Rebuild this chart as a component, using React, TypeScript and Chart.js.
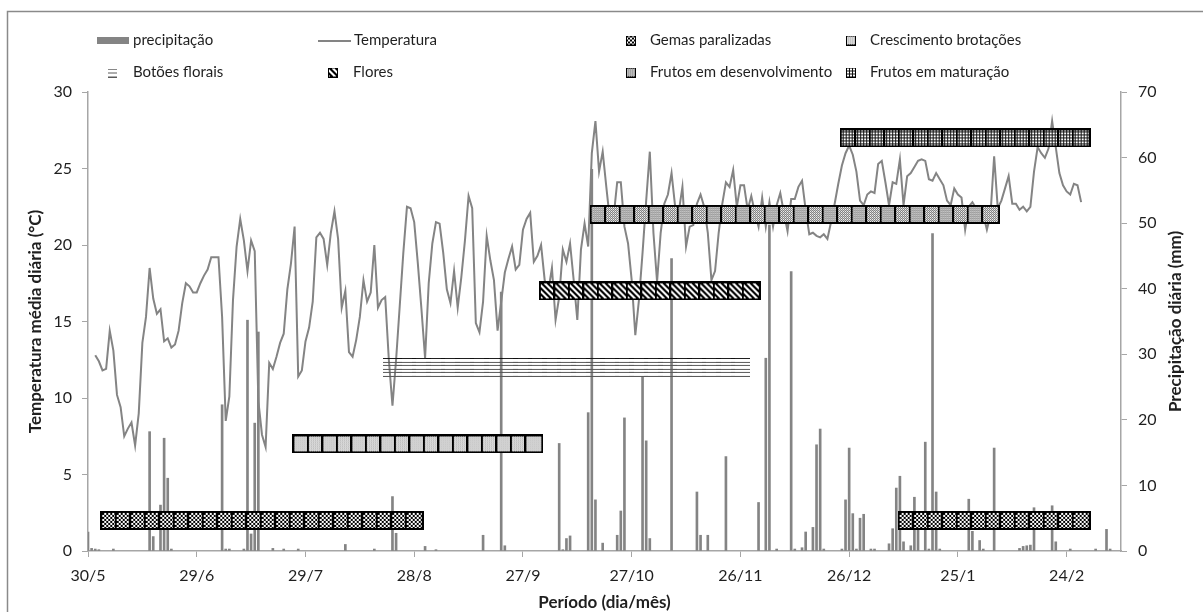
import { useEffect, useRef } from 'react';
import { Chart, registerables } from 'chart.js';

Chart.register(...registerables);

const FONT = 'Lato, "Open Sans", sans-serif';
const TEXT = '#1f1f1f';
const AXIS = '#a6a6a6';
const GRAY = '#848484';

// x axis: days counted from 30/5
const tickDays = [0, 30, 60, 90, 120, 150, 180, 210, 240, 270];
const tickLabels = ['30/5', '29/6', '29/7', '28/8', '27/9', '27/10', '26/11', '26/12', '25/1', '24/2'];
const xMaxDay = 285;

// daily mean temperature (°C), first value on day 2 (1/6)
const tempStartDay = 2;
const temperature = [
  12.8, 12.4, 11.8, 11.9, 14.4, 13.1, 10.2, 9.4, 7.5, 8.0,
  8.4, 6.9, 9.0, 13.6, 15.3, 18.5, 16.5, 15.5, 15.8, 13.7,
  13.9, 13.3, 13.5, 14.4, 16.2, 17.5, 17.3, 16.9, 16.9, 17.5,
  18.0, 18.4, 19.2, 19.2, 19.2, 15.3, 8.5, 10.1, 16.4, 19.9,
  21.7, 20.3, 18.3, 20.3, 19.6, 9.8, 7.6, 6.8, 12.3, 11.9,
  12.7, 13.6, 14.2, 17.1, 18.8, 21.2, 11.4, 11.8, 13.7, 14.6,
  16.3, 20.5, 20.8, 20.4, 18.7, 20.8, 22.2, 20.4, 15.9, 17.0,
  13.0, 12.7, 13.8, 15.3, 17.7, 16.3, 16.9, 20.0, 15.9, 16.4,
  16.6, 12.5, 9.5, 12.5, 16.0, 19.5, 22.5, 22.4, 21.5, 18.8,
  15.8, 12.6, 17.5, 20.1, 21.5, 21.4, 19.5, 17.1, 16.2, 18.3,
  15.9, 17.9, 20.3, 23.2, 22.4, 14.9, 14.3, 16.3, 20.6, 19.0,
  17.7, 14.4, 16.3, 18.2, 19.1, 19.9, 18.4, 18.7, 21.0, 21.7,
  22.1, 18.9, 19.3, 20.0, 17.7, 17.0, 18.5, 15.1, 16.6, 19.7,
  18.9, 20.1, 17.7, 15.1, 19.7, 21.4, 19.9, 26.0, 28.1, 24.8,
  26.1, 23.8, 21.6, 21.8, 24.1, 24.1, 21.2, 20.1, 17.7, 14.1,
  16.4, 19.5, 22.9, 26.1, 20.8, 17.6, 20.8, 22.7, 23.3, 24.7,
  22.5, 22.2, 23.8, 19.9, 21.2, 21.3, 22.7, 23.3, 22.5, 20.8,
  17.7, 18.3, 20.8, 22.7, 24.1, 23.8, 24.9, 22.5, 23.9, 23.9,
  22.3, 23.2, 22.1, 21.2, 23.1, 21.2, 22.8, 21.2, 22.6, 23.4,
  22.1, 20.9, 23.0, 23.0, 23.8, 24.2, 22.3, 20.7, 20.8, 20.6,
  20.5, 20.7, 20.4, 21.5, 22.7, 24.0, 25.2, 26.0, 26.5, 25.9,
  24.8, 22.9, 22.6, 23.3, 23.5, 23.4, 25.3, 25.5, 24.1, 22.6,
  24.1, 24.0, 25.6, 22.6, 24.5, 24.7, 25.1, 25.5, 25.6, 25.5,
  24.3, 24.2, 24.7, 24.3, 23.9, 22.9, 22.6, 23.7, 23.3, 23.1,
  21.0, 22.5, 22.8, 22.4, 22.0, 22.0, 21.0, 22.0, 25.8, 22.4,
  22.9, 23.7, 24.5, 22.7, 22.7, 22.3, 22.5, 22.2, 22.5, 24.8,
  26.4, 26.0, 25.7, 26.3, 28.1, 26.4, 24.7, 23.9, 23.5, 23.3,
  24.0, 23.9, 22.8,
];

// daily rainfall (mm)
const precipDays = [
  0, 1, 2, 3, 7, 17, 18, 20, 21, 22, 23, 37, 38, 39, 43, 44, 45, 46, 47, 51,
  54, 58, 71, 79, 84, 85, 93, 96, 109, 114, 115, 130, 131, 132, 133, 138, 139, 140, 142, 146,
  147, 148, 153, 154, 155, 161, 168, 169, 171, 176, 185, 187, 188, 190, 194, 195, 197, 198, 200, 201,
  202, 203, 208, 209, 210, 211, 212, 213, 214, 216, 217, 221, 222, 223, 224, 225, 227, 228, 229, 231,
  232, 233, 234, 235, 243, 244, 246, 247, 250, 257, 258, 259, 260, 261, 266, 267, 271, 278, 281, 282,
];
const precipMm = [
  2.9, 0.4, 0.3, 0.2, 0.3, 18.2, 2.2, 7.0, 17.2, 11.1, 0.3, 22.3, 0.3, 0.3, 0.3, 35.2, 2.6, 19.5, 33.4, 0.4,
  0.3, 0.3, 1.0, 0.3, 8.3, 2.7, 0.7, 0.2, 2.4, 39.5, 0.8, 16.4, 0.2, 1.9, 2.3, 21.1, 58.2, 7.8, 1.2, 2.4,
  6.1, 20.3, 26.5, 16.8, 1.9, 44.6, 9.0, 2.4, 2.4, 14.4, 7.4, 29.4, 49.7, 0.3, 42.6, 0.3, 0.5, 2.9, 3.6, 16.2,
  18.6, 0.3, 0.3, 7.8, 15.7, 5.7, 0.3, 5.0, 5.6, 0.3, 0.3, 1.1, 3.4, 9.6, 11.4, 1.4, 0.8, 8.2, 3.4, 16.6,
  0.3, 48.4, 9.0, 0.3, 7.9, 3.0, 1.6, 0.3, 15.7, 0.4, 0.7, 0.8, 0.9, 6.6, 6.9, 1.4, 0.3, 0.3, 3.3, 0.3,
];

// phenological stages: observation days and the level (°C axis) where they are plotted
const gemasDays = [6, 10, 14, 18, 22, 26, 30, 34, 38, 42, 46, 50, 54, 58, 62, 66, 70, 74, 78, 82, 86, 90,
  226, 230, 234, 238, 242, 246, 250, 254, 258, 262, 266, 270, 274];
const gemasLevel = 2;
const brotacoesDays = [59, 63, 67, 71, 75, 79, 83, 87, 91, 95, 99, 103, 107, 111, 115, 119, 123];
const brotacoesLevel = 7;
const botoesDays = [84, 88, 92, 96, 100, 104, 108, 112, 116, 120, 124, 128, 132, 136, 140, 144, 148, 152,
  156, 160, 164, 168, 172, 176, 180];
const botoesLevel = 12;
const floresDays = [127, 131, 135, 139, 143, 147, 151, 155, 159, 163, 167, 171, 175, 179, 183];
const floresLevel = 17;
const desenvDays = [141, 145, 149, 153, 157, 161, 165, 169, 173, 177, 181, 185, 189, 193, 197, 201, 205,
  209, 213, 217, 221, 225, 229, 233, 237, 241, 245, 249];
const desenvLevel = 22;
const maturacaoDays = [210, 214, 218, 222, 226, 230, 234, 238, 242, 246, 250, 254, 258, 262, 266, 270, 274];
const maturacaoLevel = 27;

type Kind = 'gemas' | 'brot' | 'botoes' | 'flores' | 'desenv' | 'matur';

function makeMarker(kind: Kind, size: number): HTMLCanvasElement {
  const c = document.createElement('canvas');
  c.width = size;
  c.height = size;
  const g = c.getContext('2d') as CanvasRenderingContext2D;
  if (kind === 'botoes') {
    const n = size >= 15 ? 6 : 3;
    const step = (size - 1) / (n - 1);
    for (let i = 0; i < n; i++) {
      g.fillStyle = i === 0 ? '#111' : '#5a5a5a';
      g.fillRect(0, Math.round(i * step), size, 1);
    }
    return c;
  }
  g.fillStyle = '#fff';
  g.fillRect(0, 0, size, size);
  for (let y = 0; y < size; y++) {
    for (let x = 0; x < size; x++) {
      let col: string | null = null;
      if (kind === 'gemas') {
        if ((Math.floor(x / 2) + Math.floor(y / 2)) % 2 === 0) col = '#000';
      } else if (kind === 'brot') {
        if ((x + y) % 2 === 0) col = (y % 2 === 0) ? '#8c8c8c' : '#b4b4b4';
      } else if (kind === 'desenv') {
        if ((x + y) % 2 === 0) col = '#777';
        else if (x % 2 === 0) col = '#cfcfcf';
      } else if (kind === 'matur') {
        if (x % 3 === 0 || y % 3 === 0) col = '#111';
      } else if (kind === 'flores') {
        if ((((x - y) % 6) + 6) % 6 < 3) col = '#000';
      }
      if (col) {
        g.fillStyle = col;
        g.fillRect(x, y, 1, 1);
      }
    }
  }
  g.strokeStyle = '#000';
  const lw = size >= 15 ? 2 : 1;
  g.lineWidth = lw;
  g.strokeRect(lw / 2, lw / 2, size - lw, size - lw);
  return c;
}

export default function App() {
  const ref = useRef<HTMLCanvasElement>(null);

  useEffect(() => {
    const canvas = ref.current;
    if (!canvas) return;

    const big: Record<Kind, HTMLCanvasElement> = {
      gemas: makeMarker('gemas', 19),
      brot: makeMarker('brot', 19),
      botoes: makeMarker('botoes', 19),
      flores: makeMarker('flores', 19),
      desenv: makeMarker('desenv', 19),
      matur: makeMarker('matur', 19),
    };
    const small: Record<Kind, HTMLCanvasElement> = {
      gemas: makeMarker('gemas', 10),
      brot: makeMarker('brot', 10),
      botoes: makeMarker('botoes', 9),
      flores: makeMarker('flores', 10),
      desenv: makeMarker('desenv', 10),
      matur: makeMarker('matur', 10),
    };

    const pheno = (label: string, kind: Kind, days: number[], level: number, order: number) => ({
      type: 'line' as const,
      label,
      data: days.map((d) => ({ x: d, y: level })),
      showLine: false,
      pointStyle: big[kind],
      pointRadius: 5,
      pointHoverRadius: 5,
      yAxisID: 'y',
      order,
      clip: false as any,
    });

    const decor = {
      id: 'decor',
      beforeDraw(chart: any) {
        const ctx = chart.ctx as CanvasRenderingContext2D;
        ctx.save();
        ctx.fillStyle = '#fff';
        ctx.fillRect(0, 0, chart.width, chart.height);
        ctx.strokeStyle = '#8a8a8a';
        ctx.lineWidth = 1.5;
        ctx.beginPath();
        ctx.moveTo(7.5, 700);
        ctx.lineTo(7.5, 11.5);
        ctx.lineTo(1400, 11.5);
        ctx.stroke();
        ctx.restore();
      },
      afterDraw(chart: any) {
        const ctx = chart.ctx as CanvasRenderingContext2D;
        const area = chart.chartArea;
        ctx.save();
        // legend
        ctx.font = `15px ${FONT}`;
        ctx.textBaseline = 'middle';
        ctx.textAlign = 'left';
        const r1 = 40.5;
        const r2 = 72.5;
        ctx.fillStyle = GRAY;
        ctx.fillRect(97, 37, 32, 7);
        ctx.strokeStyle = GRAY;
        ctx.lineWidth = 2;
        ctx.beginPath();
        ctx.moveTo(318, 41);
        ctx.lineTo(351, 41);
        ctx.stroke();
        ctx.drawImage(small.gemas, 626, r1 - 5);
        ctx.drawImage(small.brot, 846, r1 - 5);
        ctx.drawImage(small.botoes, 108, r2 - 4);
        ctx.drawImage(small.flores, 328, r2 - 5);
        ctx.drawImage(small.desenv, 626, r2 - 5);
        ctx.drawImage(small.matur, 846, r2 - 5);
        ctx.fillStyle = TEXT;
        ctx.fillText('precipitação', 133, r1);
        ctx.fillText('Temperatura', 354, r1);
        ctx.fillText('Gemas paralizadas', 650, r1);
        ctx.fillText('Crescimento brotações', 870, r1);
        ctx.fillText('Botões florais', 133, r2);
        ctx.fillText('Flores', 353, r2);
        ctx.fillText('Frutos em desenvolvimento', 650, r2);
        ctx.fillText('Frutos em maturação', 870, r2);

        // axis titles
        ctx.font = `bold 17px ${FONT}`;
        ctx.textAlign = 'center';
        const midY = (area.top + area.bottom) / 2;
        ctx.save();
        ctx.translate(36, midY);
        ctx.rotate(-Math.PI / 2);
        ctx.fillText('Temperatura média diária (°C)', 0, 0);
        ctx.restore();
        ctx.save();
        ctx.translate(1176, midY);
        ctx.rotate(-Math.PI / 2);
        ctx.fillText('Precipitação diária (mm)', 0, 0);
        ctx.restore();
        ctx.fillText('Período (dia/mês)', (area.left + area.right) / 2, 603);
        ctx.restore();
      },
    };

    const tickFont = { family: FONT, size: 16 };

    const chart = new Chart(canvas, {
      type: 'bar',
      data: {
        datasets: [
          {
            type: 'bar',
            label: 'precipitação',
            data: precipDays.map((d, i) => ({ x: d, y: precipMm[i] })),
            backgroundColor: GRAY,
            borderWidth: 0,
            barThickness: 2,
            yAxisID: 'y2',
            order: 10,
          } as any,
          {
            type: 'line',
            label: 'Temperatura',
            data: temperature.map((t, i) => ({ x: tempStartDay + i, y: t })),
            borderColor: GRAY,
            borderWidth: 2,
            pointRadius: 0,
            tension: 0,
            yAxisID: 'y',
            order: 9,
          } as any,
          pheno('Gemas paralizadas', 'gemas', gemasDays, gemasLevel, 6) as any,
          pheno('Crescimento brotações', 'brot', brotacoesDays, brotacoesLevel, 5) as any,
          pheno('Botões florais', 'botoes', botoesDays, botoesLevel, 4) as any,
          pheno('Flores', 'flores', floresDays, floresLevel, 3) as any,
          pheno('Frutos em desenvolvimento', 'desenv', desenvDays, desenvLevel, 2) as any,
          pheno('Frutos em maturação', 'matur', maturacaoDays, maturacaoLevel, 1) as any,
        ],
      },
      options: {
        animation: false,
        responsive: false,
        maintainAspectRatio: false,
        layout: { padding: { top: 92, left: 0, right: 0, bottom: 0 } },
        plugins: { legend: { display: false }, tooltip: { enabled: false } },
        events: [],
        scales: {
          x: {
            type: 'linear',
            min: 0,
            max: xMaxDay,
            offset: false,
            afterBuildTicks: (scale: any) => {
              scale.ticks = tickDays.map((v) => ({ value: v }));
            },
            afterFit: (scale: any) => {
              scale.height = 61;
            },
            ticks: {
              autoSkip: false,
              maxRotation: 0,
              padding: 9,
              color: TEXT,
              font: tickFont,
              callback: (v: any) => {
                const i = tickDays.indexOf(Number(v));
                return i >= 0 ? tickLabels[i] : '';
              },
            },
            grid: { drawOnChartArea: false, drawTicks: true, tickLength: 6, color: AXIS, offset: false },
            border: { color: AXIS, width: 1.5 },
          },
          y: {
            type: 'linear',
            position: 'left',
            min: 0,
            max: 30,
            afterFit: (scale: any) => {
              scale.width = 88;
            },
            ticks: { stepSize: 5, padding: 10, color: TEXT, font: tickFont },
            grid: { drawOnChartArea: false, drawTicks: true, tickLength: 6, color: AXIS },
            border: { color: AXIS, width: 1.5 },
          },
          y2: {
            type: 'linear',
            position: 'right',
            min: 0,
            max: 70,
            afterFit: (scale: any) => {
              scale.width = 82;
            },
            ticks: { stepSize: 10, padding: 11, color: TEXT, font: tickFont },
            grid: { drawOnChartArea: false, drawTicks: true, tickLength: 6, color: AXIS },
            border: { color: AXIS, width: 1.5 },
          },
        },
      } as any,
      plugins: [decor],
    });

    return () => chart.destroy();
  }, []);

  return (
    <div style={{ position: 'fixed', left: 0, top: 0, width: 1203, height: 612, background: '#fff' }}>
      <canvas ref={ref} width={1203} height={612} style={{ display: 'block' }} />
    </div>
  );
}
